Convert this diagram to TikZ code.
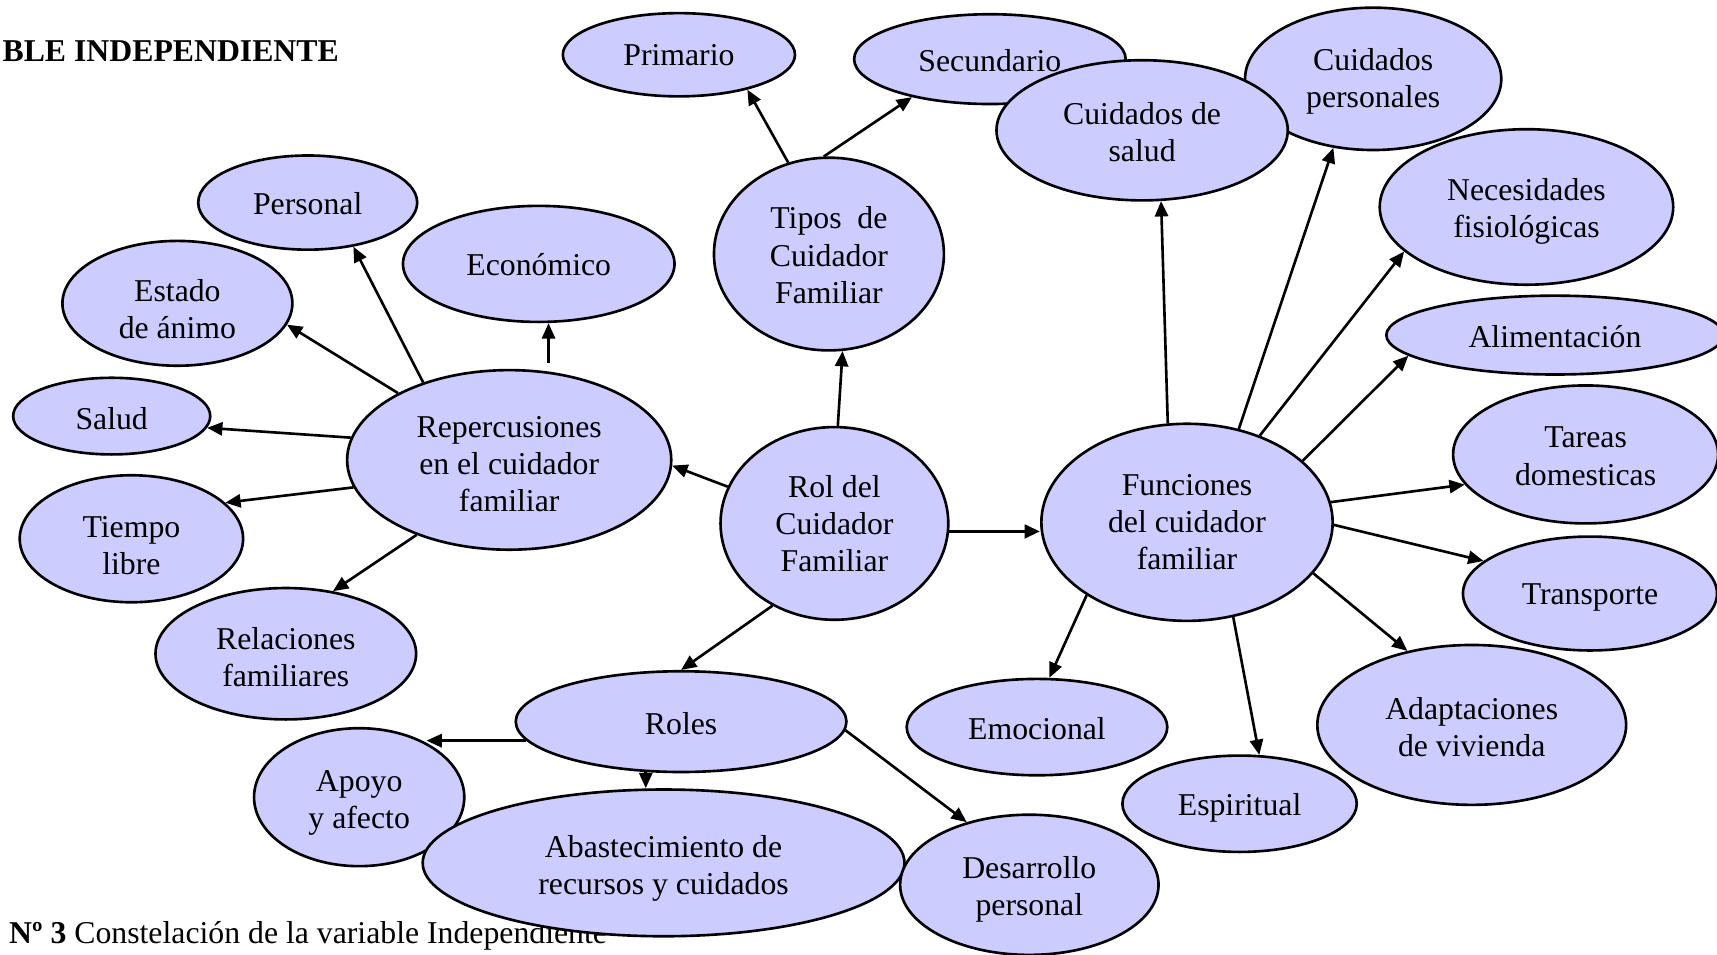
\documentclass[tikz,border=0pt]{standalone}
\usepackage{fontspec}
\setmainfont{Liberation Serif}
\usetikzlibrary{shapes.geometric,arrows.meta,calc}
\definecolor{lav}{RGB}{204,204,255}
\tikzset{
  el/.style={ellipse, draw, fill=lav, line width=1.2pt, inner sep=0pt},
  lbl/.style={align=center, inner sep=0pt, font=\fontsize{14.5}{17}\selectfont},
  tx/.style 2 args={label={[lbl,yshift=#1]center:{#2}}},
  arr/.style={draw, line width=1.2pt, -{Triangle[length=7pt,width=6pt]}},
  txt/.style={inner sep=0pt, anchor=base west, font=\fontsize{14.5}{17}\selectfont}
}
\begin{document}
\begin{tikzpicture}[x=0.5pt,y=-0.5pt]
\useasboundingbox (0,0) rectangle (1568,872);
% texts
\node[txt] (title) at (2,56) {\textbf{BLE INDEPENDIENTE}};
\node[txt] (cap) at (8,862) {\textbf{Nº 3} Constelación de la variable Independiente};
% nodes
\node[el, minimum width=106pt, minimum height=38pt, tx={0pt}{Primario}] (prim) at (620,50) {};
\node[el, minimum width=124pt, minimum height=41pt, tx={-0.5pt}{Secundario}] (sec) at (904,54) {};
\node[el, minimum width=117pt, minimum height=65pt, tx={-1.2pt}{Cuidados\\personales}] (cp) at (1254,72) {};
\node[el, minimum width=133pt, minimum height=64pt, tx={-0.8pt}{Cuidados de\\salud}] (cds) at (1043,119) {};
\node[el, minimum width=134pt, minimum height=71pt, tx={-2pt}{Necesidades\\fisiológicas}] (nec) at (1394,189) {};
\node[el, minimum width=154pt, minimum height=36pt, tx={-0.5pt}{Alimentación}] (alim) at (1420,306) {};
\node[el, minimum width=121pt, minimum height=63pt, tx={-0.8pt}{Tareas\\domesticas}] (tar) at (1448,415) {};
\node[el, minimum width=116pt, minimum height=52pt, tx={-2pt}{Transporte}] (tra) at (1452,542) {};
\node[el, minimum width=141pt, minimum height=73pt, tx={-1pt}{Adaptaciones\\de vivienda}] (ada) at (1344,662) {};
\node[el, minimum width=107pt, minimum height=44pt, tx={-2pt}{Espiritual}] (esp) at (1132,734) {};
\node[el, minimum width=119pt, minimum height=44pt, tx={-0.5pt}{Emocional}] (emo) at (947,664) {};
\node[el, minimum width=105pt, minimum height=88pt, tx={-0.5pt}{Tipos\hspace{0.5em}de\\Cuidador\\Familiar}] (tipos) at (757,232) {};
\node[el, minimum width=104pt, minimum height=88pt, tx={0pt}{Rol del\\Cuidador\\Familiar}] (rol) at (762,478) {};
\node[el, minimum width=133pt, minimum height=90pt, tx={0pt}{Funciones\\del cuidador\\familiar}] (fun) at (1084,477) {};
\node[el, minimum width=148pt, minimum height=82pt, tx={-2pt}{Repercusiones\\en el cuidador\\familiar}] (rep) at (465,420) {};
\node[el, minimum width=124pt, minimum height=53pt, tx={-0.5pt}{Económico}] (eco) at (492,241) {};
\node[el, minimum width=100pt, minimum height=43pt, tx={-0.5pt}{Personal}] (pers) at (281,185) {};
\node[el, minimum width=105pt, minimum height=57pt, tx={-2.5pt}{Estado\\de ánimo}] (est) at (162,277) {};
\node[el, minimum width=90pt, minimum height=35pt, tx={-1pt}{Salud}] (salud) at (102,380) {};
\node[el, minimum width=102pt, minimum height=58pt, tx={-3pt}{Tiempo\\libre}] (tiempo) at (120,492) {};
\node[el, minimum width=119pt, minimum height=60pt, tx={-1.5pt}{Relaciones\\familiares}] (rel) at (261,597) {};
\node[el, minimum width=151pt, minimum height=46pt, tx={-1pt}{Roles}] (roles) at (622,659) {};
\node[el, minimum width=96pt, minimum height=63pt, tx={-2.5pt}{Apoyo\\y afecto}] (apoyo) at (328,728) {};
\node[el, minimum width=220pt, minimum height=67pt, tx={-2.5pt}{Abastecimiento de\\recursos y cuidados}] (abas) at (606,788) {};
\node[el, minimum width=118pt, minimum height=64pt, tx={-2pt}{Desarrollo\\personal}] (des) at (940,808) {};
% connectors
\draw[arr] (rol.88) -- (tipos.-82);
\draw[arr] (tipos.114) -- (prim.-27);
\draw[arr] (tipos.93) -- (sec.206);
\draw[arr] (rol.161) -- (rep.-2);
\draw[arr, line width=1.7pt] (rol.-4) -- (rol.-4 -| fun.west);
\draw[arr] (rol.233) -- (roles.90);
\draw[arr] ($(rep.66)+(0,-8)$) -- (rep.66 |- eco.south);
\draw[arr] (rep.138) -- (pers.-44);
\draw[arr] (rep.149) -- (est.-11);
\draw[arr] (rep.172) -- (salud.-7);
\draw[arr] (rep.190) -- (tiempo.21);
\draw[arr] (rep.219) -- (rel.53);
\draw[arr] (roles.187) -- (apoyo.39 |- roles.187);
\draw[arr] (roles.235) -- (roles.235 |- abas.north);
\draw[arr] (roles.-3) -- (des.135);
\draw[arr] (fun.101) -- (cds.-75);
\draw[arr] (fun.61) -- (cp.240);
\draw[arr] (fun.50) -- (nec.200);
\draw[arr] (fun.28) -- (alim.188);
\draw[arr] (fun.8) -- (tar.194);
\draw[arr] (fun.-1) -- (tra.163);
\draw[arr] (fun.-22) -- (ada.131);
\draw[arr] (fun.-64) -- (esp.68);
\draw[arr] (fun.216) -- (emo.76);
\end{tikzpicture}
\end{document}
